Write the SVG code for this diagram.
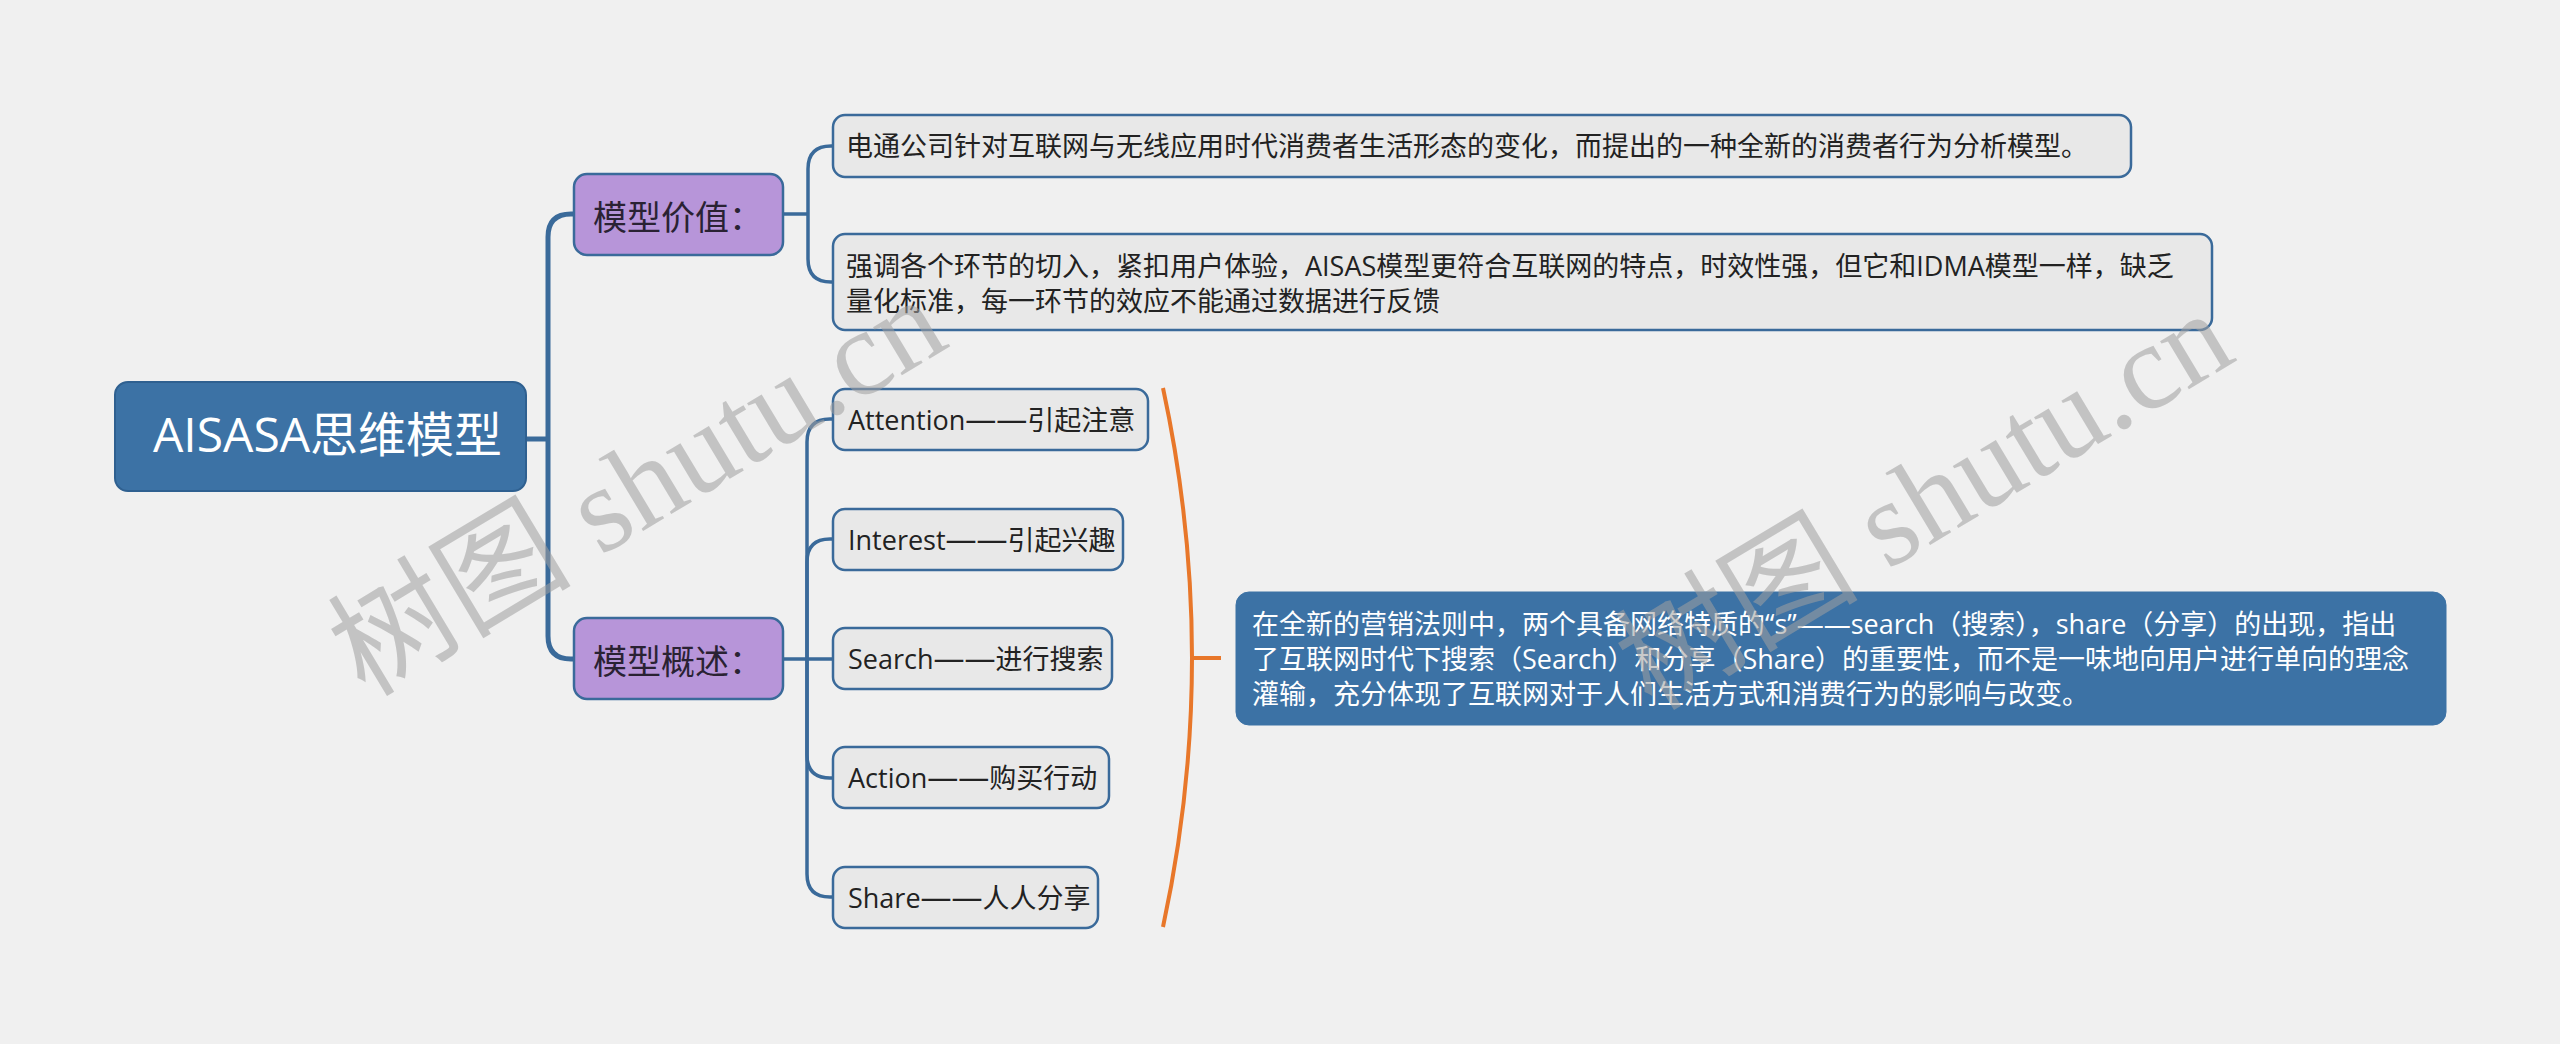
<svg xmlns="http://www.w3.org/2000/svg" width="2560" height="1044" viewBox="0 0 2560 1044">
<style>
.t{font-family:"Open Sans","Noto Sans CJK SC",sans-serif;}
.d{font-size:31px;}
.root{fill:#3c72a5;stroke:#2f6090;stroke-width:2;}
.main{fill:#b795d9;stroke:#3a6a9a;stroke-width:2.5;}
.sub{fill:#e8e8e8;stroke:#3a6a9a;stroke-width:2.5;}
.note{fill:#3c72a5;stroke:#3c72a5;stroke-width:1;}
.c1{fill:none;stroke:#3a6a9a;stroke-width:5;}
.c2{fill:none;stroke:#3a6a9a;stroke-width:3.5;}
.br{fill:none;stroke:#e8772a;stroke-width:4;}
.wm{font-family:"Liberation Serif","Noto Sans CJK SC",serif;font-size:122px;fill:#a0a0a0;opacity:0.55;}
</style>
<rect width="2560" height="1044" fill="#f0f0f0"/>
<g id="connectors">
<path class="c1" d="M526,439 H548"/>
<path class="c1" d="M574,214 H571 Q548,214 548,237 V636 Q548,659 571,659 H574"/>
<path class="c2" d="M783,214 H808"/>
<path class="c2" d="M833,146 H831 Q808,146 808,169 V259 Q808,282 831,282 H833"/>
<path class="c2" d="M783,659 H833"/>
<path class="c2" d="M807,659 V442 Q807,419 830,419 H833"/>
<path class="c2" d="M807,659 V562 Q807,539 830,539 H833"/>
<path class="c2" d="M807,659 V755 Q807,778 830,778 H833"/>
<path class="c2" d="M807,659 V874 Q807,897 830,897 H833"/>
<path class="br" d="M1163,388 Q1221,658 1163,927"/>
<path class="br" d="M1192,658 H1221"/>
</g>
<g id="root">
<rect class="root" x="115" y="382" width="411" height="109" rx="13"/>
<text class="t" x="153" y="452" font-size="48" fill="#ffffff">AISASA思维模型</text>
</g>
<g id="node-value">
<rect class="main" x="574" y="174" width="209" height="81" rx="13"/>
<text class="t" x="593" y="230" font-size="34" fill="#2a2233">模型价值：</text>
</g>
<g id="node-overview">
<rect class="main" x="574" y="618" width="209" height="81" rx="13"/>
<text class="t" x="593" y="674" font-size="34" fill="#2a2233">模型概述：</text>
</g>
<g id="value-1">
<rect class="sub" x="833" y="115" width="1298" height="62" rx="12"/>
<text class="t" x="846" y="156" font-size="27" fill="#222">电通公司针对互联网与无线应用时代消费者生活形态的变化，而提出的一种全新的消费者行为分析模型。</text>
</g>
<g id="value-2">
<rect class="sub" x="833" y="234" width="1379" height="96" rx="12"/>
<text class="t" x="846" y="276" font-size="27" fill="#222">强调各个环节的切入，紧扣用户体验，AISAS模型更符合互联网的特点，时效性强，但它和IDMA模型一样，缺乏</text>
<text class="t" x="846" y="311" font-size="27" fill="#222">量化标准，每一环节的效应不能通过数据进行反馈</text>
</g>
<g id="attention">
<rect class="sub" x="833" y="389" width="315" height="61" rx="12"/>
<text class="t" x="848" y="430" font-size="27" fill="#222">Attention<tspan class="d">——</tspan>引起注意</text>
</g>
<g id="interest">
<rect class="sub" x="833" y="509" width="290" height="61" rx="12"/>
<text class="t" x="848" y="550" font-size="27" fill="#222">Interest<tspan class="d">——</tspan>引起兴趣</text>
</g>
<g id="search">
<rect class="sub" x="833" y="628" width="279" height="61" rx="12"/>
<text class="t" x="848" y="669" font-size="27" fill="#222">Search<tspan class="d">——</tspan>进行搜索</text>
</g>
<g id="action">
<rect class="sub" x="833" y="747" width="276" height="61" rx="12"/>
<text class="t" x="848" y="788" font-size="27" fill="#222">Action<tspan class="d">——</tspan>购买行动</text>
</g>
<g id="share">
<rect class="sub" x="833" y="867" width="265" height="61" rx="12"/>
<text class="t" x="848" y="908" font-size="27" fill="#222">Share<tspan class="d">——</tspan>人人分享</text>
</g>
<g id="note">
<rect class="note" x="1236" y="592" width="1210" height="133" rx="13"/>
<text class="t" x="1252" y="634" font-size="27" fill="#ffffff">在全新的营销法则中，两个具备网络特质的“s”——search（搜索），share（分享）的出现，指出</text>
<text class="t" x="1252" y="669" font-size="27" fill="#ffffff">了互联网时代下搜索（Search）和分享（Share）的重要性，而不是一味地向用户进行单向的理念</text>
<text class="t" x="1252" y="704" font-size="27" fill="#ffffff">灌输，充分体现了互联网对于人们生活方式和消费行为的影响与改变。</text>
</g>
<g id="watermarks">
<text class="wm" transform="translate(365,698) rotate(-31)">树图 shutu.cn</text>
<text class="wm" transform="translate(1652,712) rotate(-31)">树图 shutu.cn</text>
</g>
</svg>
